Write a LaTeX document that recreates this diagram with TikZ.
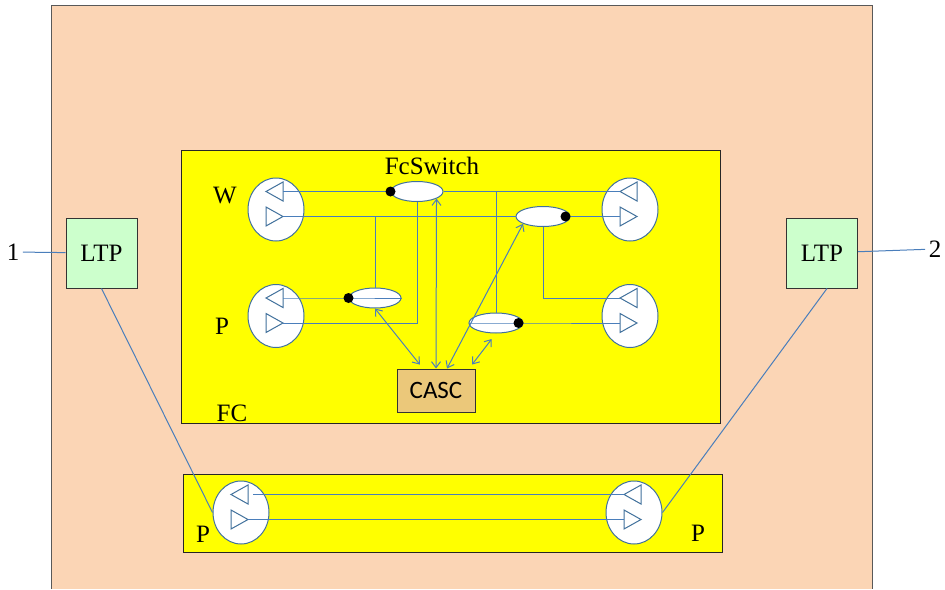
\documentclass[tikz,border=0pt]{standalone}
\usepackage{fontspec}
\setmainfont{Liberation Serif}
\newfontfamily\cascfont{Carlito}
\usetikzlibrary{arrows.meta,shapes.geometric}
\definecolor{peach}{HTML}{FBD5B5}
\definecolor{wireblue}{HTML}{4A7EBB}
\definecolor{portblue}{HTML}{41719C}
\definecolor{ltpgreen}{HTML}{CCFFCC}
\definecolor{cascfill}{HTML}{EBC87A}
\definecolor{fcyellow}{HTML}{FFFF00}

\begin{document}
\begin{tikzpicture}[x=1pt,y=-1pt,every node/.style={font=\fontsize{25}{29}\selectfont},
  wire/.style={draw=wireblue,line width=1pt},
  port/.style={ellipse,draw=portblue,fill=white,line width=1pt,minimum width=56pt,minimum height=63pt,inner sep=0pt},
  switch/.style={ellipse,draw=portblue,fill=white,line width=1pt,minimum width=52pt,minimum height=20pt,inner sep=0pt},
  ltp/.style={draw=black!80,line width=1pt,fill=ltpgreen,minimum width=71pt,minimum height=70pt,inner sep=0pt},
  dual/.style={wire,{Straight Barb[length=6pt,width=9pt]}-{Straight Barb[length=6pt,width=9pt]}}]
\useasboundingbox (0,0) rectangle (945,589);
\fill[peach] (51,5) rectangle (872,589);
\draw[black!65,line width=1pt] (51,589)--(51,5)--(872,5)--(872,589);
\draw[black!85,line width=1pt,fill=fcyellow] (181,150) rectangle (720,423);
\draw[black!85,line width=1pt,fill=fcyellow] (183,474) rectangle (722,552);
\node[ltp] (L1) at (101.5,253) {LTP};
\node[ltp] (L2) at (822,253) {LTP};
\node (n1) at (13,252) {1};
\node (n2) at (935,249) {2};
\draw[wire] (n1) -- (L1);
\draw[wire] (L2) -- (n2);
\node[port] (Wl) at (276,209.5) {};
\node[port] (Pl) at (276,316) {};
\node[port] (Wr) at (630,209.5) {};
\node[port] (Pr) at (630,316) {};
\node[port] (Bl) at (241,512.5) {};
\node[port] (Br) at (634,512.5) {};
\foreach \n in {Wl,Pl,Wr,Pr,Bl,Br}{
  \begin{scope}[shift={(\n)}]
    \draw[portblue,line width=1pt] (-10,-18)--(7,-27.5)--(7,-8.5)--cycle;
    \draw[portblue,line width=1pt] (-10,-2.5)--(7,7)--(-10,16.5)--cycle;
    \coordinate (\n-a) at (7,-18);
    \coordinate (\n-b) at (7,7);
    \coordinate (\n-c) at (-10,-18);
    \coordinate (\n-d) at (-10,7);
  \end{scope}
}
\node (wlab) at (225,196) {W};
\node (plab) at (222,326) {P};
\node (fcsw) at (432,166) {FcSwitch};
\node (fclab) at (232,413) {FC};
\node (bplab) at (203,534) {P};
\node (bprab) at (698,533) {P};
\node[switch] (S1) at (417,191.5) {};
\node[switch] (S2) at (375,298) {};
\node[switch,minimum width=54pt] (S3) at (543,216.5) {};
\node[switch,minimum width=54pt] (S4) at (496,323) {};
\draw[wire] (Wl-a) -- (S1.west);
\draw[wire] (S1.east) -- (Wr-c);
\draw[wire] (Wl-b) -- (S3.west);
\draw[wire] (S3.east) -- (Wr-d);
\draw[wire] (S2.north |- Wl-b) -- (S2.north);
\draw[wire] (S1.south) |- (Pl-b);
\draw[wire] (Pl-a) -- (S2.west) -- (S2.east);
\draw[wire] (S3.south) |- (Pr-c);
\draw[wire] (S4.north |- Wr-c) -- (S4.north);
\draw[wire] (S4.west) -- (S4.east) -- (Pr-d);
\fill (S1.west) circle (5pt);
\fill (S2.west) circle (5pt);
\fill ([xshift=-5pt]S3.east) circle (5pt);
\fill ([xshift=-5pt]S4.east) circle (5pt);
\node[draw=black!80,line width=1pt,fill=cascfill,minimum width=78pt,minimum height=43pt,font=\cascfont\fontsize{25}{29}\selectfont] (C) at (436,390.5) {CASC};
\draw[dual,shorten >=5pt] (S2.south) -- ([xshift=-13pt]C.north);
\draw[dual] (S1.-20) -- (C.north);
\draw[dual] ([xshift=11pt]C.north) -- (S3.-160);
\draw[dual,shorten <=5pt,shorten >=7pt] ([xshift=33pt]C.north) -- (S4.south);
\draw[wire,shorten <=5pt] (Bl-a) -- (Br-c);
\draw[wire] (Bl-b) -- (Br-d);
\draw[wire] (L1.south) -- (Bl.west);
\draw[wire] ([xshift=5pt]L2.south) -- (Br.east);
\end{tikzpicture}
\end{document}
